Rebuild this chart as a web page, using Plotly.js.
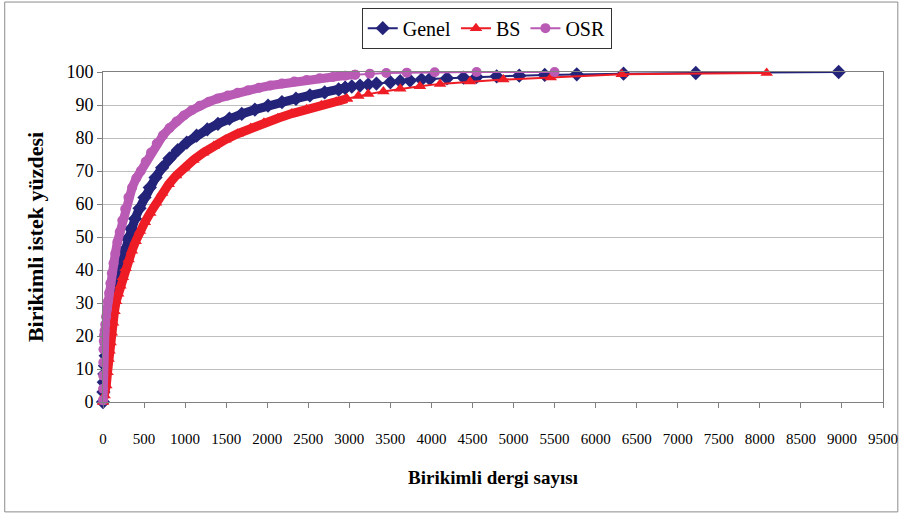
<!DOCTYPE html>
<html>
<head>
<meta charset="utf-8">
<script src="https://cdn.plot.ly/plotly-3.0.1.min.js"></script>
<style>html,body{margin:0;padding:0;background:#fff;}#chart{width:903px;height:518px;}</style>
</head>
<body>
<div id="chart"></div>
<script>
// Series: cumulative number of journals (x) vs cumulative request percentage (y)
const genelX = [0,5,10,16,24,33,44,56,70,86,104,124,146,170,198,228,262,300,342,390,445,505,570,640,720,810,910,1020,1140,1270,1400,1540,1690,1850,2010,2180,2350,2520,2700,2870,2950,3030,3130,3230,3330,3500,3620,3740,3880,3980,4190,4390,4550,4795,5070,5380,5770,6340,7220,8960];
const genelY = [0,3,6,8.5,11,14,17.5,21,24.5,28,30.5,33,35.5,38,40.5,43,46,49.5,52.5,55.5,58.7,62,65,68,71,73.8,76.3,78.6,80.7,82.6,84.3,85.9,87.3,88.6,89.8,90.9,91.9,92.9,93.8,94.7,95.2,95.6,95.9,96.2,96.5,96.9,97.2,97.4,97.7,97.9,98.1,98.3,98.5,98.7,98.9,99.1,99.3,99.5,99.7,100];

const bsX = [0,20,40,55,68,80,93,107,122,140,160,185,212,242,275,312,352,398,450,510,575,645,720,800,890,990,1100,1220,1350,1490,1640,1800,1960,2130,2300,2480,2660,2840,2970,3110,3230,3415,3620,3860,4105,4470,4876,5453,6318,8083];
const bsY = [0,2,5,9,13,15.5,18,21,24,27.5,30.5,32.8,35.2,37.8,40.5,43.2,45.8,48.7,51.8,54.5,57.3,60.4,63.3,66,68.6,71,73.3,75.5,77.6,79.5,81.3,83,84.6,86,87.4,88.7,89.9,91,91.9,92.7,93.3,94.1,94.9,95.7,96.4,97.1,97.7,98.3,99.3,99.7];

const osrX = [0,1,2,4,6,9,13,19,27,37,48,60,74,90,108,128,150,175,203,235,270,310,355,405,460,520,585,655,730,810,895,985,1080,1180,1290,1400,1520,1640,1770,1900,2040,2180,2330,2480,2640,2800,2950,3070,3250,3450,3700,4040,4550,5500];
const osrY = [0.5,4,8,12,16,18.5,20.2,21.6,23.5,25.8,28.2,30.5,33,36,39,42,45,48.5,51.5,55,58.5,62,65,67.8,70,72.8,75.6,78.3,80.8,83,85,86.8,88.4,89.8,91,92,92.9,93.7,94.5,95.2,95.9,96.5,97.1,97.6,98.1,98.5,98.9,99.2,99.5,99.7,99.8,99.9,100,100];

const seriesNames = ["Genel","BS","OSR"];
const xTicks = [0,500,1000,1500,2000,2500,3000,3500,4000,4500,5000,5500,6000,6500,7000,7500,8000,8500,9000,9500];
const yTicks = [0,10,20,30,40,50,60,70,80,90,100];

// styling
const FONT = "Liberation Serif, 'Times New Roman', serif";
const styles = [
  {color:"#23237A", symbol:"diamond", size:11, split:2950},
  {color:"#EE1C25", symbol:"triangle-up", size:11, split:2970},
  {color:"#B95BB5", symbol:"circle", size:10, split:3070}
];
const data = [[genelX,genelY],[bsX,bsY],[osrX,osrY]];

const dense = [], tail = [];
data.forEach((d,i)=>{
  const s = styles[i];
  const dx=[],dy=[],tx=[],ty=[];
  d[0].forEach((x,k)=>{
    if (x<=s.split){dx.push(x);dy.push(d[1][k]);}
    if (x>=s.split){tx.push(x);ty.push(d[1][k]);}
  });
  dense.push({x:dx,y:dy,type:"scatter",mode:"lines+markers",name:seriesNames[i],legendgroup:seriesNames[i],showlegend:false,cliponaxis:false,
    line:{color:s.color,width:9},marker:{color:s.color,symbol:s.symbol,size:s.size}});
  tail.push({x:tx,y:ty,type:"scatter",mode:"lines+markers",name:seriesNames[i],legendgroup:seriesNames[i],showlegend:true,cliponaxis:false,
    line:{color:s.color,width:2},marker:{color:s.color,symbol:s.symbol,size:s.size}});
});
const traces = [];
for (let i=0;i<3;i++){traces.push(dense[i]);traces.push(tail[i]);}

const layout = {
  width:903, height:518,
  margin:{l:103,r:20,t:72,b:116,autoexpand:false},
  paper_bgcolor:"#fff", plot_bgcolor:"#fff",
  font:{family:FONT,color:"#000"},
  showlegend:true,
  legend:{orientation:"h",x:0.492,xanchor:"center",y:1.195,yanchor:"top",
    bordercolor:"#333",borderwidth:1,font:{family:FONT,size:20,color:"#000"},bgcolor:"#fff",
    traceorder:"normal"},
  xaxis:{range:[0,9500],tickvals:xTicks,ticktext:xTicks.map(String),ticks:"outside",ticklen:5,tickcolor:"#808080",
    showline:true,linecolor:"#808080",linewidth:1,mirror:true,showgrid:false,zeroline:false,
    ticklabelstandoff:18,
    tickfont:{family:FONT,size:15,color:"#000"},
    title:{text:"<b>Birikimli dergi sayısı</b>",font:{family:FONT,size:19,color:"#000"},standoff:24}},
  yaxis:{range:[0,100],tickvals:yTicks,ticks:"outside",ticklen:5,tickcolor:"#808080",
    showline:true,linecolor:"#808080",linewidth:1,mirror:true,showgrid:true,gridcolor:"#BEBEBE",gridwidth:1,zeroline:false,
    tickfont:{family:FONT,size:18,color:"#000"},
    title:{text:"<b>Birikimli istek yüzdesi</b>",font:{family:FONT,size:22,color:"#000"},standoff:16}},
  shapes:[{type:"rect",xref:"paper",yref:"paper",x0:-0.126,x1:1.019,y0:-0.333,y1:1.212,line:{color:"#8c8c8c",width:1},layer:"below"}]
};
Plotly.newPlot("chart",traces,layout,{displayModeBar:false,staticPlot:true});
</script>
</body>
</html>
